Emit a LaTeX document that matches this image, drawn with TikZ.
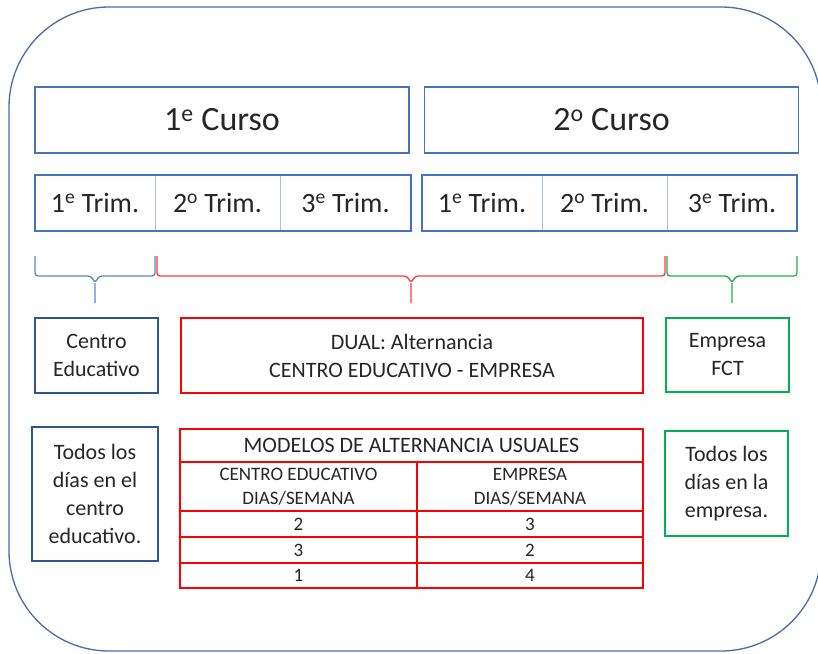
\documentclass[tikz,border=0pt]{standalone}
\usepackage{fontspec}
\setmainfont{Carlito}
\usepackage{tikz}
\usetikzlibrary{positioning,calc}

\definecolor{marcoazul}{HTML}{4A6DA7}
\definecolor{cursoazul}{HTML}{4472C4}
\definecolor{trimazul}{HTML}{A9BEE4}
\definecolor{oscuroazul}{HTML}{2F5597}
\definecolor{rojo}{HTML}{FF0000}
\definecolor{verde}{HTML}{00B050}
\definecolor{llaveazul}{HTML}{5B86D0}
\definecolor{llaveroja}{HTML}{FF3B3B}
\definecolor{llaveverde}{HTML}{21B04B}
\definecolor{texto}{HTML}{262626}

\tikzstyle{curso} = [rectangle, minimum width=374pt, minimum height=66pt, text centered, draw=cursoazul, line width=1.5pt, text=texto, font=\fontsize{34}{40}\selectfont]
\tikzstyle{trim} = [rectangle, minimum height=56pt, inner sep=0pt, outer sep=0pt, text centered, draw=trimazul, line width=1pt, text=texto, font=\fontsize{28}{32}\selectfont]
\tikzstyle{grupo} = [draw=cursoazul, line width=2.2pt]
\tikzstyle{cajaazul} = [rectangle, minimum width=123pt, align=center, draw=oscuroazul, line width=1.4pt, text=texto, font=\fontsize{22}{28}\selectfont]
\tikzstyle{cajaroja} = [rectangle, align=center, draw=rojo, line width=1.4pt, text=texto, font=\fontsize{22}{28}\selectfont]
\tikzstyle{cajaverde} = [rectangle, minimum width=123pt, align=center, draw=verde, line width=1.4pt, text=texto, font=\fontsize{22}{28}\selectfont]
\tikzstyle{celda} = [rectangle, inner sep=0pt, outer sep=0pt, align=center, draw=rojo, line width=1.6pt, text=texto, font=\fontsize{19}{24}\selectfont]
\tikzstyle{llave} = [line width=1.3pt, rounded corners=3pt]
\tikzstyle{marco} = [draw=marcoazul, line width=1.3pt, rounded corners=100pt]

\begin{document}
\begin{tikzpicture}[x=1pt, y=-1pt]
		\useasboundingbox (0,0) rectangle (818,653);
		\draw[marco] (9,7) rectangle (821,651);
		
		\node[curso] (curso1) at (222,120) {1\textsuperscript{e} Curso};
		\node[curso, right=14pt of curso1] (curso2) {2\textsuperscript{o} Curso};
		
		\node[trim, minimum width=120pt] (t11) at (95,203) {1\textsuperscript{e} Trim.};
		\node[trim, minimum width=125pt, right=0pt of t11] (t12) {2\textsuperscript{o} Trim.};
		\node[trim, minimum width=131pt, right=0pt of t12] (t13) {3\textsuperscript{e} Trim.};
		\node[trim, minimum width=120pt] (t21) at (482,203) {1\textsuperscript{e} Trim.};
		\node[trim, minimum width=125pt, right=0pt of t21] (t22) {2\textsuperscript{o} Trim.};
		\node[trim, minimum width=130pt, right=0pt of t22] (t23) {3\textsuperscript{e} Trim.};
		\draw[grupo] (t11.north west) rectangle (t13.south east);
		\draw[grupo] (t21.north west) rectangle (t23.south east);
		
		\node[cajaazul, minimum height=75pt] (centro) at (96.5,355.5) {Centro\\Educativo};
		\node[cajaroja, minimum width=462pt, minimum height=75pt] (dual) at (412,355.5) {DUAL: Alternancia\\CENTRO EDUCATIVO - EMPRESA};
		\node[cajaverde, minimum height=74pt] (empresa) at (727.5,355) {Empresa\\FCT};
		\node[cajaazul, minimum width=126pt, minimum height=134pt] (todos1) at (95,494) {Todos los\\días en el\\centro\\educativo.};
		\node[cajaverde, minimum height=105pt] (todos2) at (726.5,483.5) {Todos los\\días en la\\empresa.};
		
		%tabla
		\node[celda, minimum width=463pt, minimum height=33pt, font=\fontsize{22}{26}\selectfont] (modelos) at (411.5,445.5) {MODELOS DE ALTERNANCIA USUALES};
		\node[celda, minimum width=237pt, minimum height=49pt, anchor=north west] (ce) at (modelos.south west) {CENTRO EDUCATIVO\\DIAS/SEMANA};
		\node[celda, minimum width=226pt, minimum height=49pt, right=0pt of ce] (em) {EMPRESA\\DIAS/SEMANA};
		\node[celda, minimum width=237pt, minimum height=26pt, below=0pt of ce] (ce1) {2};
		\node[celda, minimum width=226pt, minimum height=26pt, below=0pt of em] (em1) {3};
		\node[celda, minimum width=237pt, minimum height=26pt, below=0pt of ce1] (ce2) {3};
		\node[celda, minimum width=226pt, minimum height=26pt, below=0pt of em1] (em2) {2};
		\node[celda, minimum width=237pt, minimum height=25pt, below=0pt of ce2] (ce3) {1};
		\node[celda, minimum width=226pt, minimum height=25pt, below=0pt of em2] (em3) {4};
		
		%llaves
		\draw[llave, draw=llaveazul] ($(t11.south west)+(0,25)$) |- ($(t11.south)+(-4,45)$) -- ++(4,7) coordinate (pazul) -- ++(4,-7) -| ($(t11.south east)+(0,25)$) (pazul) -- ++(0,20);
		\draw[llave, draw=llaveroja] ($(t12.south west)+(2,25)$) |- ($(t12.south west)!0.5!(t23.south west)+(-4,45)$) -- ++(4,7) coordinate (projo) -- ++(4,-7) -| ($(t23.south west)+(-2,25)$) (projo) -- ++(0,20);
		\draw[llave, draw=llaveverde] ($(t23.south west)+(0,25)$) |- ($(t23.south)+(-4,45)$) -- ++(4,7) coordinate (pverde) -- ++(4,-7) -| ($(t23.south east)+(0,25)$) (pverde) -- ++(0,20);
		
	\end{tikzpicture}
\end{document}
